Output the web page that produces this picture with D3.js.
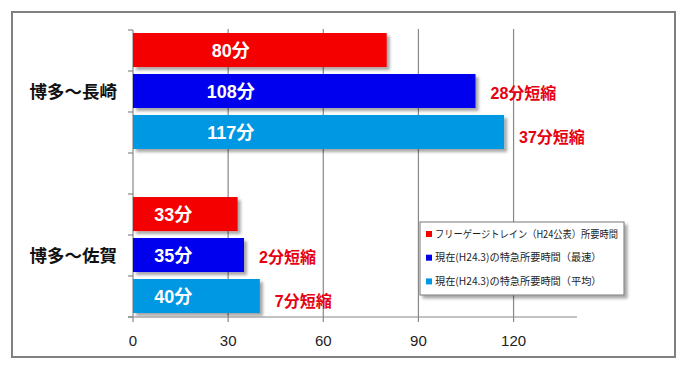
<!DOCTYPE html>
<html>
<head>
<meta charset="utf-8">
<script src="https://d3js.org/d3.v7.min.js"></script>
<style>
  body { margin: 0; background: #fff; }
  text { font-family: "Liberation Sans", "Noto Sans CJK JP", sans-serif; }
</style>
</head>
<body>
<svg id="chart" width="687" height="372"></svg>
<script>
const routes = ['博多～長崎', '博多～佐賀'];
const seriesNames = [
  'フリーゲージトレイン（H24公表）所要時間',
  '現在(H24.3)の特急所要時間（最速）',
  '現在(H24.3)の特急所要時間（平均）'
];
const freeGauge = [80, 33];
const expressFastest = [108, 35];
const expressAverage = [117, 40];
const xTicks = [0, 30, 60, 90, 120];
const colors = ['#f40000', '#0000ee', '#0098e2'];

const series = [freeGauge, expressFastest, expressAverage];
const rows = [];
routes.forEach((r, i) => {
  series.forEach((s, j) => {
    rows.push({ route: r, idx: j, value: s[i], base: freeGauge[i] });
  });
});

const svg = d3.select('#chart');
const plotL = 133, plotR = 577, plotT = 29, plotB = 317;

const defs = svg.append('defs');
const sh = defs.append('filter').attr('id', 'shadow')
  .attr('x', '-10%').attr('y', '-20%').attr('width', '130%').attr('height', '160%');
sh.append('feDropShadow').attr('dx', 3).attr('dy', 3).attr('stdDeviation', 1.6)
  .attr('flood-color', '#000').attr('flood-opacity', 0.35);

// outer frame
svg.append('rect').attr('x', 12).attr('y', 12).attr('width', 663).attr('height', 345)
  .attr('fill', 'none').attr('stroke', '#808080').attr('stroke-width', 2);

const x = d3.scaleLinear().domain([0, 140]).range([plotL, plotR]);
const y = d3.scaleBand().domain(routes).range([plotT, plotB])
  .paddingInner(0.293).paddingOuter(0.0244);
const ySub = d3.scaleBand().domain(d3.range(series.length))
  .range([0, y.bandwidth()]).paddingInner(0.17);

// gridlines
svg.append('g').selectAll('line').data(xTicks.filter(d => d > 0)).join('line')
  .attr('x1', d => x(d)).attr('x2', d => x(d))
  .attr('y1', plotT).attr('y2', plotB)
  .attr('stroke', '#888').attr('stroke-width', 1.2);

// y axis with minor ticks
const yMinor = d3.scaleLinear().domain([0, 7]).range([plotT + 1, plotB]);
svg.append('line').attr('x1', plotL).attr('x2', plotL).attr('y1', plotT + 1).attr('y2', plotB)
  .attr('stroke', '#888').attr('stroke-width', 1.2);
svg.append('g').selectAll('line').data(yMinor.ticks(7)).join('line')
  .attr('x1', plotL - 5).attr('x2', plotL)
  .attr('y1', d => yMinor(d)).attr('y2', d => yMinor(d))
  .attr('stroke', '#888').attr('stroke-width', 1.2);

// bars
const bars = svg.append('g').selectAll('g').data(rows).join('g')
  .attr('transform', d => `translate(0,${y(d.route) + ySub(d.idx)})`);

bars.append('rect')
  .attr('x', x(0)).attr('y', 0)
  .attr('width', d => x(d.value) - x(0))
  .attr('height', ySub.bandwidth())
  .attr('fill', d => colors[d.idx])
  .attr('filter', 'url(#shadow)');

bars.append('text')
  .attr('x', d => x(d.base * 0.385))
  .attr('y', ySub.bandwidth() / 2 + 1)
  .attr('dy', '0.35em')
  .attr('text-anchor', 'middle')
  .attr('fill', '#fff')
  .attr('font-size', 18).attr('font-weight', 'bold')
  .text(d => d.value + '分');

bars.filter(d => d.idx > 0).append('text')
  .attr('x', d => x(d.value) + 15)
  .attr('y', d => ySub.bandwidth() / 2 + (d.idx === 2 ? 5 : 2))
  .attr('dy', '0.35em')
  .attr('fill', '#e60010')
  .attr('font-size', 16).attr('font-weight', 'bold')
  .text(d => (d.value - d.base) + '分短縮');

// x axis
svg.append('line').attr('x1', plotL - 5).attr('x2', plotR).attr('y1', plotB).attr('y2', plotB)
  .attr('stroke', '#888').attr('stroke-width', 1.2);
const xAxis = svg.append('g').selectAll('g').data(xTicks).join('g')
  .attr('transform', d => `translate(${x(d)},${plotB})`);
xAxis.append('line').attr('y1', 0).attr('y2', 5).attr('stroke', '#888').attr('stroke-width', 1.2);
xAxis.append('text').attr('y', 29).attr('text-anchor', 'middle')
  .attr('font-size', 15).attr('fill', '#222').text(d => d);

// category labels
svg.append('g').selectAll('text').data(routes).join('text')
  .attr('x', 117)
  .attr('y', d => y(d) + y.bandwidth() / 2 + 1)
  .attr('dy', '0.35em')
  .attr('text-anchor', 'end')
  .attr('font-size', 17.5).attr('font-weight', 'bold')
  .attr('fill', '#111')
  .style('font-family', '"Noto Sans CJK JP", sans-serif')
  .text(d => d);

// legend
const legendW = 204;
const lg = svg.append('g').attr('transform', 'translate(420,222)');
lg.append('rect').attr('width', legendW).attr('height', 73)
  .attr('fill', '#fff').attr('stroke', '#777').attr('stroke-width', 1)
  .attr('filter', 'url(#shadow)');
const items = lg.selectAll('g.item').data(seriesNames).join('g')
  .attr('class', 'item')
  .attr('transform', (d, i) => `translate(6,${12 + i * 23.7})`);
items.append('rect').attr('x', 0).attr('y', -3).attr('width', 6).attr('height', 6)
  .attr('fill', (d, i) => colors[i]);
items.append('text').attr('x', 9).attr('dy', '0.35em')
  .attr('font-size', 10.2).attr('fill', '#222')
  .style('font-family', '"Noto Sans CJK JP", sans-serif')
  .text(d => d)
  .each(function () {
    const maxW = legendW - 21;
    if (this.getComputedTextLength() > maxW) {
      d3.select(this).attr('textLength', maxW).attr('lengthAdjust', 'spacingAndGlyphs');
    }
  });
</script>
</body>
</html>
